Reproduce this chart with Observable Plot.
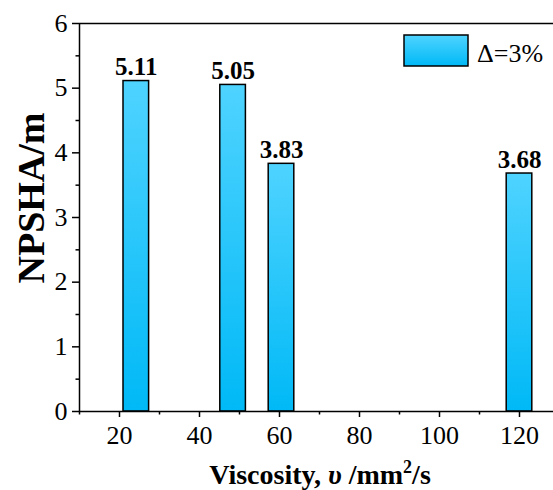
<!DOCTYPE html>
<html>
<head>
<meta charset="utf-8">
<script src="https://cdn.jsdelivr.net/npm/d3@7"></script>
<script src="https://cdn.jsdelivr.net/npm/@observablehq/plot@0.6"></script>
<style>
  html, body { margin: 0; padding: 0; background: white; }
  svg text { font-family: "Liberation Serif", "Times New Roman", Times, serif; }
</style>
</head>
<body>
<div id="chart"></div>
<script>
const viscosity = [24.2, 48.4, 60.5, 120];
const npsha = [5.11, 5.05, 3.83, 3.68];
const valueLabels = ["5.11", "5.05", "3.83", "3.68"];
const xMajorTicks = [20, 40, 60, 80, 100, 120];
const xMinorTicks = [10, 30, 50, 70, 90, 110];
const yMajorTicks = [0, 1, 2, 3, 4, 5, 6];
const yMinorTicks = [0.5, 1.5, 2.5, 3.5, 4.5, 5.5];
const legendLabel = "Δ=3%";
const barHalfWidth = 3.2;

const data = viscosity.map((x, i) => ({x, v: npsha[i], label: valueLabels[i]}));

const font = "Liberation Serif";

const svg = Plot.plot({
  width: 553,
  height: 490,
  marginLeft: 79,
  marginRight: 0,
  marginTop: 23,
  marginBottom: 79,
  style: {fontFamily: font, fontSize: "26px", color: "black", background: "white"},
  x: {domain: [10, 128.5]},
  y: {domain: [0, 6]},
  marks: [
    Plot.rectY(data, {x1: d => d.x - barHalfWidth, x2: d => d.x + barHalfWidth, y: "v", fill: "url(#barGrad)", stroke: "black", strokeWidth: 1.5}),
    Plot.text(data, {x: "x", y: "v", text: "label", dy: -6, lineAnchor: "bottom", fontWeight: "bold", fontSize: 25}),
    Plot.axisX({ticks: xMajorTicks, tickFormat: "d", tickSize: 6, tickPadding: 8, label: null, strokeWidth: 1.5}),
    Plot.axisX({ticks: xMinorTicks, tickSize: 3.5, text: null, label: null, strokeWidth: 1.5}),
    Plot.axisY({ticks: yMajorTicks, tickFormat: "d", tickSize: 7, tickPadding: 5, label: null, strokeWidth: 1.5}),
    Plot.axisY({ticks: yMinorTicks, tickSize: 3.5, text: null, label: null, strokeWidth: 1.5}),
    Plot.ruleY([0], {strokeWidth: 1.5}),
    Plot.ruleY([6], {strokeWidth: 1.5}),
    Plot.ruleX([10], {strokeWidth: 1.5})
  ]
});

const s = d3.select(svg);
const defs = s.insert("defs", ":first-child");
const g = defs.append("linearGradient").attr("id", "barGrad")
  .attr("x1", 0).attr("y1", 0).attr("x2", 0).attr("y2", 1);
g.append("stop").attr("offset", "0%").attr("stop-color", "#4fd3ff");
g.append("stop").attr("offset", "100%").attr("stop-color", "#00b9f6");

// legend
const lg = s.append("g");
lg.append("rect").attr("x", 404).attr("y", 35).attr("width", 64).attr("height", 31)
  .attr("fill", "url(#barGrad)").attr("stroke", "black").attr("stroke-width", 1.5);
lg.append("text").attr("x", 477).attr("y", 62).attr("text-anchor", "start")
  .attr("font-size", 26).attr("fill", "black").text(legendLabel);

// x title
const xt = s.append("text").attr("x", 320).attr("y", 484).attr("text-anchor", "middle")
  .attr("font-size", 28).attr("font-weight", "bold").attr("fill", "black");
xt.append("tspan").text("Viscosity, ");
xt.append("tspan").attr("font-style", "italic").text("υ");
xt.append("tspan").text(" /mm");
xt.append("tspan").attr("font-size", 18).attr("dy", -11).text("2");
xt.append("tspan").attr("dy", 11).text("/s");

// y title
s.append("text").attr("transform", "translate(44,198) rotate(-90)").attr("text-anchor", "middle")
  .attr("font-size", 38).attr("font-weight", "bold").attr("fill", "black")
  .text("NPSHA/m");

document.getElementById("chart").appendChild(svg);
</script>
</body>
</html>
